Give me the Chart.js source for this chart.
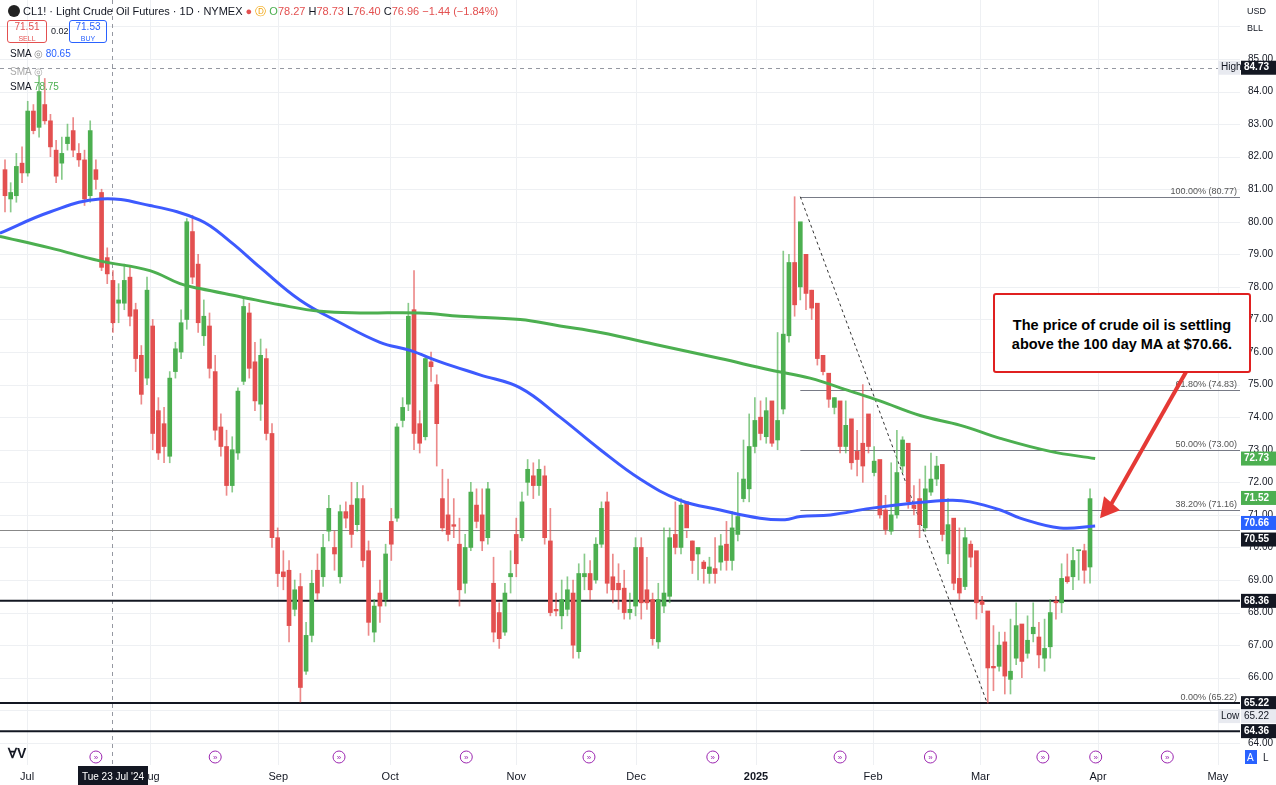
<!DOCTYPE html>
<html><head><meta charset="utf-8">
<script src="https://cdn.jsdelivr.net/npm/chart.js@4"></script>
<style>
body{margin:0;background:#fff;font-family:"Liberation Sans",Arial,sans-serif;}
#wrap{position:relative;width:1276px;height:785px;overflow:hidden}
canvas{position:absolute;left:0;top:0}
.t{position:absolute;font-size:11px;color:#131722;white-space:nowrap}
.box{position:absolute;border:1px solid #e0e3eb;border-radius:3px;font-size:10px;text-align:center;line-height:11px}
</style></head><body>
<div id="wrap"><canvas id="c" width="1276" height="785"></canvas>
<div class="t" style="left:8px;top:4px;font-size:11px"><b style="display:inline-block;width:12px;height:12px;border-radius:6px;background:#222;vertical-align:-2px"></b> CL1! · Light Crude Oil Futures · 1D · NYMEX <span style="color:#e35050">●</span> <span style="color:#f0a000">Ⓓ</span> <span style="color:#4caf50">O</span><span style="color:#e35050">78.27</span> H<span style="color:#e35050">78.73</span> L<span style="color:#e35050">76.40</span> C<span style="color:#e35050">76.96 −1.44 (−1.84%)</span></div>
<div class="box" style="left:7px;top:20px;width:38px;height:21px;color:#e35050;border-color:#e35050">71.51<br><span style="font-size:7px">SELL</span></div>
<div class="t" style="left:51px;top:26px;font-size:9px">0.02</div>
<div class="box" style="left:69px;top:20px;width:36px;height:21px;color:#2962ff;border-color:#2962ff">71.53<br><span style="font-size:7px">BUY</span></div>
<div class="t" style="left:10px;top:48px;font-size:10px">SMA <span style="color:#888">◎</span> <span style="color:#2962ff">80.65</span></div>
<div class="t" style="left:10px;top:66px;font-size:10px;color:#aaa">SMA ◎</div>
<div class="t" style="left:10px;top:81px;font-size:10px">SMA <span style="color:#4caf50">78.75</span></div>
<div class="t" style="left:1247px;top:6px;font-size:9px">USD</div>
<div class="t" style="left:1247px;top:23px;font-size:9px">BLL</div>
<div style="position:absolute;left:993px;top:293px;width:258px;height:80px;border:2px solid #e02020;border-radius:3px;background:#fff;font-weight:bold;font-size:14.5px;text-align:center;line-height:19px;padding-top:21px;box-sizing:border-box">The price of crude oil is settling<br>above the 100 day MA at $70.66.</div>
</div>
<script>
const months=['Jul','Aug','Sep','Oct','Nov','Dec','2025','Feb','Mar','Apr','May'];
const monthIdx=[3.9,25.5,48.1,67.8,90,111.1,132.2,152.8,171.7,192.4,213.5];
const opens=[81.6,80.7,80.8,81.8,81.5,83.4,82.9,83.6,83.1,82.2,81.8,82.4,82.8,82.1,81.9,80.8,81.6,80.9,78.9,78.2,77.5,77.5,78.3,77.3,75.9,75.2,76.8,74.2,73.8,72.8,75.4,76.0,77.0,79.7,78.7,76.5,76.8,75.4,73.7,73.1,71.9,72.9,75.1,77.2,75.7,74.4,75.8,73.5,70.3,69.25,69.3,68.1,68.8,66.2,67.3,69.3,69.1,70.5,70.0,69.1,71.1,71.3,70.7,71.5,69.9,67.4,68.6,68.4,70.8,70.9,73.9,74.4,77.3,73.8,73.4,75.7,75.0,71.5,71.0,70.7,70.1,68.9,70.0,71.3,71.0,70.3,68.9,68.0,67.4,69.1,70.4,70.3,72.0,72.2,71.9,72.2,70.2,68.1,67.9,68.1,68.6,66.8,69.1,69.2,69.0,70.1,71.4,69.1,68.9,68.75,68.0,68.2,70.0,68.7,68.4,67.1,68.2,68.5,70.4,70.0,71.4,70.2,69.8,69.55,69.2,69.35,69.55,70.1,69.6,70.4,71.5,71.8,73.1,74.0,73.4,74.5,73.3,74.25,76.5,78.75,78.0,79.0,77.9,77.5,75.9,75.35,74.3,74.5,73.1,73.95,72.95,73.2,74.1,72.3,72.7,71.15,70.5,71.0,72.5,73.2,71.3,71.5,70.6,71.7,72.1,72.55,69.8,70.9,69.05,68.8,70.1,69.9,68.35,68.05,66.35,66.35,67.1,65.95,66.6,67.65,66.75,67.35,67.25,66.6,66.95,68.35,68.3,69.1,69.1,69.9,69.9,69.4];
const closes=[80.8,80.9,81.7,81.5,83.4,82.8,84.0,83.1,82.3,81.4,82.1,82.6,82.2,81.9,80.7,82.8,81.3,78.6,78.4,76.9,77.6,78.2,77.1,75.8,74.7,77.9,73.5,72.9,73.1,75.2,76.1,76.9,80.0,78.3,76.9,77.1,75.5,73.6,73.1,71.9,73.0,74.8,77.4,75.5,74.5,75.9,73.5,70.3,69.2,69.1,67.6,68.7,65.7,67.3,68.9,68.6,70.0,71.2,69.8,71.1,70.9,70.4,71.5,69.6,67.7,68.2,68.2,69.8,70.1,73.7,74.3,77.1,73.5,73.2,75.8,75.55,73.8,70.6,70.4,70.65,68.7,70.0,71.7,70.8,70.2,71.8,67.4,67.2,68.6,69.2,69.5,71.4,72.4,71.9,72.4,70.3,68.0,68.05,68.4,68.7,67.0,69.2,69.2,68.7,70.1,71.2,68.9,68.7,68.7,68.0,68.1,70.0,68.3,68.3,67.2,68.4,68.6,70.3,70.0,71.3,70.6,69.6,70.0,69.35,69.4,69.2,70.05,69.6,70.6,70.95,72.1,73.1,73.9,73.5,74.2,73.2,73.9,76.55,78.75,77.45,80.0,77.8,77.35,75.8,75.4,74.55,74.6,73.1,73.75,72.6,72.7,72.5,73.1,72.65,71.0,70.55,71.0,72.3,73.3,71.4,71.2,70.7,71.8,72.1,72.5,70.4,70.7,68.9,68.6,70.3,69.7,68.3,68.25,66.3,66.3,67.0,66.05,66.2,67.6,66.5,67.15,67.55,66.7,66.9,68.0,68.3,69.05,68.95,69.6,69.9,69.3,71.5];
const highs=[81.9,81.2,82.1,82.3,83.7,83.6,84.5,84.4,83.3,82.5,82.6,83.0,83.2,82.4,82.2,83.1,81.9,81.0,79.2,78.5,78.1,78.7,78.6,77.5,76.2,78.3,77.0,74.6,74.3,75.4,76.3,77.3,80.1,80.2,79.0,77.6,77.2,75.9,74.1,73.6,73.4,74.9,77.7,77.5,76.3,76.4,76.1,73.8,70.6,69.9,69.6,69.0,69.2,67.7,69.3,69.8,70.4,71.6,70.5,71.3,71.4,72.0,72.0,71.9,70.2,68.4,69.0,70.1,71.2,73.8,74.6,77.5,78.5,74.2,75.9,76.0,75.3,72.4,72.1,71.5,70.9,70.4,72.0,71.8,71.8,72.0,69.7,68.3,68.9,69.9,70.9,71.7,72.7,72.6,72.7,72.5,71.2,68.6,69.0,69.1,69.0,69.5,69.8,69.6,70.3,71.4,71.7,69.8,69.5,69.3,68.6,70.3,70.3,69.7,68.6,68.9,70.6,70.6,71.4,71.5,70.5,70.2,69.8,69.6,69.7,70.3,70.4,70.8,71.1,72.3,73.3,74.1,74.6,74.5,74.6,74.3,76.6,79.1,79.0,80.77,79.3,78.1,77.9,76.4,75.5,75.0,74.6,74.3,74.5,73.4,73.6,75.0,73.2,73.1,71.6,71.6,72.6,73.6,73.4,71.8,71.9,72.1,72.5,72.9,72.8,71.0,71.5,69.4,70.6,70.6,70.2,68.8,68.5,67.9,67.6,67.4,67.4,67.8,68.3,67.0,67.9,68.3,67.7,67.8,68.4,68.5,69.5,69.8,70.0,69.9,70.1,71.8];
const lows=[80.3,80.3,80.6,81.2,81.4,82.7,82.6,83.0,82.0,81.2,81.3,82.2,82.0,81.7,80.5,80.6,81.0,78.5,78.1,76.6,76.9,77.3,76.8,75.4,74.4,75.0,73.0,72.7,72.6,72.6,75.2,75.8,76.7,78.1,76.6,76.2,75.2,73.3,72.8,71.6,71.7,72.7,75.0,75.2,74.2,73.9,73.3,70.0,68.8,68.7,67.1,67.9,65.25,66.1,67.1,68.4,68.8,70.2,69.3,68.9,70.6,70.0,70.5,69.4,67.3,67.1,67.7,68.2,69.6,70.8,73.7,74.2,73.0,72.9,73.3,75.1,72.5,70.5,70.2,70.3,68.2,68.6,69.9,70.6,69.9,70.1,67.1,66.9,67.3,68.6,69.1,70.2,71.6,71.5,71.6,70.1,67.9,67.9,67.5,67.9,66.6,66.6,68.7,68.4,68.9,70.0,68.6,68.3,68.1,67.8,67.8,67.9,67.8,68.1,67.0,66.9,68.0,68.3,69.8,69.8,70.3,69.2,69.0,68.9,68.9,68.9,69.3,69.3,69.3,70.2,71.4,71.4,72.9,73.3,73.2,73.1,73.0,74.1,76.3,77.1,77.6,77.3,77.0,75.6,75.3,74.3,74.1,72.9,72.9,72.4,72.2,72.0,72.9,72.2,70.9,70.4,70.4,70.9,72.3,71.2,71.0,70.3,70.5,71.6,71.9,70.2,69.5,68.7,68.4,68.7,69.4,67.8,68.0,65.22,65.6,66.2,65.5,65.5,66.4,66.0,66.6,67.1,66.3,66.2,66.6,67.8,68.0,68.9,68.7,69.0,68.9,68.9];
const sma100Idx=[-0.9,7.9,16.7,25.5,34.3,39.6,44.9,51.9,59,66,71.3,76.6,83.6,90.7,97.7,104.8,111.8,118.8,125.9,132.9,137.3,140,145.3,152.3,159.3,166.4,169.9,175.2,178.7,185.7,191.9];
const sma100=[79.65,80.3,80.7,80.5,80.05,79.4,78.6,77.6,76.9,76.3,76.05,75.7,75.3,74.9,74.0,73.0,72.1,71.45,71.15,70.9,70.85,70.95,71.0,71.2,71.35,71.45,71.4,71.15,70.9,70.6,70.66];
const sma200Idx=[-0.9,7.9,16.7,25.5,30.8,34.3,41.4,48.4,55.5,62.5,73,80.1,90.7,97.7,104.8,115.3,125.9,134.7,141.7,148.8,154,161.1,168.2,175.2,184,191.9];
const sma200=[79.55,79.2,78.8,78.5,78.1,77.95,77.7,77.45,77.25,77.2,77.2,77.1,77.0,76.8,76.6,76.2,75.8,75.45,75.2,74.8,74.5,74.05,73.75,73.35,72.95,72.73];
const fibLevels=[80.77,74.83,73.00,71.16,65.22];
const fibLabels=['100.00% (80.77)','61.80% (74.83)','50.00% (73.00)','38.20% (71.16)','0.00% (65.22)'];
const keyLevels=[68.36,65.22,64.36];
const priceTags=[[84.73,'#131722',0],[72.73,'#4caf50',0],[71.52,'#4caf50',0],[70.66,'#2962ff',-3],[70.55,'#131722',10],[68.36,'#131722',0],[65.22,'#131722',0],[64.36,'#131722',0]];
const eventIdx=[16,37,58.8,81.2,102.8,124.6,147,162.9,182.7,192,204.6];

const G='#4caf50',R='#e35050';
const col=opens.map((o,i)=>closes[i]>=o?G:R);
const bodies=opens.map((o,i)=>({x:i,y:[Math.min(o,closes[i]),Math.max(o,closes[i])]}));
const wicks=highs.map((h,i)=>({x:i,y:[lows[i],h]}));
const Y0=63.32,Y1=86.81,X0=-0.88,X1=217.4;

const deco={id:'deco',
beforeDatasetsDraw(ch){const c=ch.ctx,xs=ch.scales.x,ys=ch.scales.y,a=ch.chartArea;c.save();
 c.strokeStyle='#eef0f3';c.lineWidth=1;
 for(let v=64;v<=86;v++){const y=Math.round(ys.getPixelForValue(v))+0.5;c.beginPath();c.moveTo(a.left,y);c.lineTo(a.right,y);c.stroke();}
 monthIdx.forEach(m=>{const x=Math.round(xs.getPixelForValue(m))+0.5;c.beginPath();c.moveTo(x,a.top);c.lineTo(x,a.bottom);c.stroke();});
 c.strokeStyle='#9598a1';c.setLineDash([4,4]);const vx=Math.round(xs.getPixelForValue(18.8))+0.5;c.beginPath();c.moveTo(vx,a.top);c.lineTo(vx,a.bottom);c.stroke();
 const hy=Math.round(ys.getPixelForValue(84.73))+0.5;c.beginPath();c.moveTo(a.left,hy);c.lineTo(a.right,hy);c.stroke();c.setLineDash([]);
 c.strokeStyle='#131722';c.lineWidth=2;keyLevels.forEach(v=>{const y=ys.getPixelForValue(v);c.beginPath();c.moveTo(a.left,y);c.lineTo(a.right,y);c.stroke();});
 c.strokeStyle='#888';c.lineWidth=1;const y55=Math.round(ys.getPixelForValue(70.55))+0.5;c.beginPath();c.moveTo(a.left,y55);c.lineTo(a.right,y55);c.stroke();
 const fx=xs.getPixelForValue(140);c.strokeStyle='#787b86';c.font='9px "Liberation Sans"';c.fillStyle='#555';c.textAlign='right';
 fibLevels.forEach((v,i)=>{const y=Math.round(ys.getPixelForValue(v))+0.5;if(i<4){c.beginPath();c.moveTo(fx,y);c.lineTo(a.right,y);c.stroke();}c.fillText(fibLabels[i],a.right-3,y-4);});
 c.setLineDash([3,3]);c.strokeStyle='#333';c.beginPath();c.moveTo(fx,ys.getPixelForValue(80.77));c.lineTo(xs.getPixelForValue(172.9),ys.getPixelForValue(65.22));c.stroke();c.setLineDash([]);
 c.restore();},
afterDatasetsDraw(ch){const c=ch.ctx,xs=ch.scales.x,ys=ch.scales.y,a=ch.chartArea;c.save();
 c.strokeStyle='#e53935';c.fillStyle='#e53935';c.lineWidth=4;const ax=1100,ay=ys.getPixelForValue(70.9);c.beginPath();c.moveTo(1186,372);c.lineTo(ax+10,ay-12);c.stroke();
 c.beginPath();c.moveTo(ax,ay);c.lineTo(ax+4,ay-22);c.lineTo(ax+20,ay-8);c.closePath();c.fill();
 c.font='10px "Liberation Sans"';c.textAlign='left';c.textBaseline='middle';c.fillStyle='#131722';
 for(let v=64;v<=85;v++){c.fillText(v.toFixed(2),a.right+8,ys.getPixelForValue(v));}
 priceTags.forEach(([v,cl,off])=>{const y=ys.getPixelForValue(v)+off;c.fillStyle=cl;c.fillRect(a.right+1,y-7,35,14);c.fillStyle='#fff';c.font='bold 10px "Liberation Sans"';c.fillText(v.toFixed(2),a.right+4,y);});
 c.font='10px "Liberation Sans"';
 const lb=(t,v,off)=>{const y=ys.getPixelForValue(v)+off;c.fillStyle='#e8eaf0';c.fillRect(1218,y-7,22,14);c.fillStyle='#131722';c.fillText(t,1221,y);};
 lb('High',84.73,0);c.fillStyle='#e8eaf0';c.fillRect(a.right+1,ys.getPixelForValue(65.22)+6,35,14);c.fillStyle='#131722';c.fillText('65.22',a.right+4,ys.getPixelForValue(65.22)+13);lb('Low',65.22,13);
 c.textAlign='center';c.textBaseline='alphabetic';
 months.forEach((m,i)=>{c.font=(m==='2025'?'bold ':'')+'11px "Liberation Sans"';c.fillStyle='#131722';c.fillText(m,xs.getPixelForValue(monthIdx[i]),780);});
 c.fillStyle='#131722';c.fillRect(78,766,70,19);c.fillStyle='#fff';c.font='10px "Liberation Sans"';c.fillText("Tue 23 Jul '24",113,780);
 eventIdx.forEach(i=>{const x=xs.getPixelForValue(i);c.strokeStyle='#9c27b0';c.lineWidth=1;c.beginPath();c.arc(x,757,6,0,7);c.stroke();c.fillStyle='#9c27b0';c.font='8px sans-serif';c.fillText('»',x,760);});
 c.fillStyle='#131722';c.font='bold 14px "Liberation Sans"';c.textAlign='left';c.fillText('ⱯV',8,758);
 c.fillStyle='#2962ff';c.fillRect(1245,750,12,14);c.fillStyle='#fff';c.font='10px sans-serif';c.fillText('A',1247,761);c.fillStyle='#131722';c.fillText('L',1263,761);
 c.restore();}};

new Chart(document.getElementById('c'),{
 data:{datasets:[
  {type:'line',data:sma200Idx.map((x,i)=>({x,y:sma200[i]})),borderColor:'#4caf50',borderWidth:3,pointRadius:0,tension:0.4},
  {type:'line',data:sma100Idx.map((x,i)=>({x,y:sma100[i]})),borderColor:'#3d5afe',borderWidth:3,pointRadius:0,tension:0.4},
  {type:'bar',data:wicks,backgroundColor:col.map(c=>c+'aa'),barThickness:1,grouped:false,order:5},
  {type:'bar',data:bodies,backgroundColor:col,barThickness:4,minBarLength:1,grouped:false,order:4}
 ]},
 options:{responsive:false,animation:false,events:[],
  layout:{padding:{left:0,right:36,top:0,bottom:20}},
  plugins:{legend:{display:false},tooltip:{enabled:false}},
  scales:{x:{type:'linear',min:X0,max:X1,display:false,offset:false},y:{min:Y0,max:Y1,display:false}}},
 plugins:[deco]});
</script></body></html>
